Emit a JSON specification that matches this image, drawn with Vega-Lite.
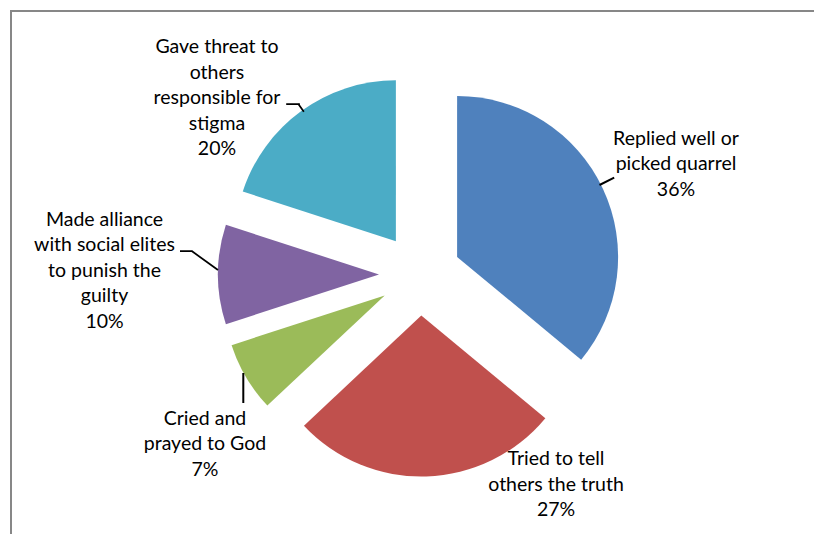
{
  "$schema": "https://vega.github.io/schema/vega-lite/v6.json",
  "width": 818,
  "height": 527,
  "autosize": "none",
  "padding": {"left": 11, "top": 11, "right": -15, "bottom": -4},
  "background": "white",
  "config": {
    "view": {"stroke": null},
    "text": {"font": "Lato", "fontSize": 19.5, "color": "#000000"}
  },
  "data": {
    "values": [
      {"category": "Replied well or picked quarrel", "label": ["Replied well or", "picked quarrel", "36%"], "value": 36, "order": 1},
      {"category": "Tried to tell others the truth", "label": ["Tried to tell", "others the truth", "27%"], "value": 27, "order": 2},
      {"category": "Cried and prayed to God", "label": ["Cried and", "prayed to God", "7%"], "value": 7, "order": 3},
      {"category": "Made alliance with social elites to punish the guilty", "label": ["Made alliance", "with social elites", "to punish the", "guilty", "10%"], "value": 10, "order": 4},
      {"category": "Gave threat to others responsible for stigma", "label": ["Gave threat to", "others", "responsible for", "stigma", "20%"], "value": 20, "order": 5}
    ]
  },
  "transform": [
    {"stack": "value", "groupby": [], "sort": [{"field": "order", "order": "ascending"}], "as": ["v0", "v1"]}
  ],
  "layer": [
    {
      "data": {"values": [{"frame": "chart area"}]},
      "mark": {"type": "rect", "fill": null, "stroke": "#878787", "strokeWidth": 2, "x2Offset": 40, "y2Offset": 40},
      "encoding": {}
    },
    {
      "transform": [{"filter": {"field": "order", "equal": 1}}],
      "encoding": {"theta": {"field": "v0", "type": "quantitative", "scale": {"domain": [0, 100], "range": [0, 6.283185307179586]}}},
      "layer": [
        {"mark": {"type": "arc", "outerRadius": 161, "xOffset": 37.1, "yOffset": -17.5},
         "encoding": {"theta2": {"field": "v1"}, "color": {"field": "category", "type": "nominal", "legend": null,
           "scale": {"domain": ["Replied well or picked quarrel", "Tried to tell others the truth", "Cried and prayed to God", "Made alliance with social elites to punish the guilty", "Gave threat to others responsible for stigma"],
                     "range": ["#4F81BD", "#C0504D", "#9BBB59", "#8064A2", "#4BACC6"]}}}},
        {"mark": {"type": "text", "radius": 278.8, "thetaOffset": 1.1633, "align": "center", "baseline": "middle", "lineHeight": 25.5, "dy": -25.5},
         "encoding": {"text": {"field": "label"}}},
        {"mark": {"type": "arc", "radius": 217, "radius2": 200.6, "thetaOffset": 1.1083, "theta2Offset": 1.1083, "fillOpacity": 0, "stroke": "#000000", "strokeWidth": 2},
         "encoding": {"theta2": {"field": "v0"}}}
      ]
    },
    {
      "transform": [{"filter": {"field": "order", "equal": 2}}],
      "encoding": {"theta": {"field": "v0", "type": "quantitative"}},
      "layer": [
        {"mark": {"type": "arc", "outerRadius": 161, "xOffset": 1.3, "yOffset": 41.0},
         "encoding": {"theta2": {"field": "v1"}, "color": {"field": "category", "type": "nominal", "legend": null}}},
        {"mark": {"type": "text", "radius": 250.6, "thetaOffset": 0.306, "align": "center", "baseline": "middle", "lineHeight": 25.5, "dy": -25.5},
         "encoding": {"text": {"field": "label"}}}
      ]
    },
    {
      "transform": [{"filter": {"field": "order", "equal": 3}}],
      "encoding": {"theta": {"field": "v0", "type": "quantitative"}},
      "layer": [
        {"mark": {"type": "arc", "outerRadius": 161, "xOffset": -35.3, "yOffset": 20.9},
         "encoding": {"theta2": {"field": "v1"}, "color": {"field": "category", "type": "nominal", "legend": null}}},
        {"mark": {"type": "text", "radius": 273.8, "thetaOffset": 0.0864, "align": "center", "baseline": "middle", "lineHeight": 25.5, "dy": -25.5},
         "encoding": {"text": {"field": "label"}}},
        {"mark": {"type": "arc", "radius": 128.5, "radius2": 98.5, "thetaOffset": -0.8168, "theta2Offset": -0.8168, "xOffset": -176.7, "yOffset": 0, "fillOpacity": 0, "stroke": "#000000", "strokeWidth": 2},
         "encoding": {"theta2": {"field": "v0"}}}
      ]
    },
    {
      "transform": [{"filter": {"field": "order", "equal": 4}}],
      "encoding": {"theta": {"field": "v0", "type": "quantitative"}},
      "layer": [
        {"mark": {"type": "arc", "outerRadius": 161, "xOffset": -41, "yOffset": 0},
         "encoding": {"theta2": {"field": "v1"}, "color": {"field": "category", "type": "nominal", "legend": null}}},
        {"mark": {"type": "text", "radius": 315.5, "thetaOffset": 0.3253, "align": "center", "baseline": "middle", "lineHeight": 25.5, "dy": -51},
         "encoding": {"text": {"field": "label"}}},
        {"mark": {"type": "arc", "radius": 240, "radius2": 227.8, "thetaOffset": 0.31416, "theta2Offset": 0.31416, "xOffset": 0, "yOffset": -23.5, "fillOpacity": 0, "stroke": "#000000", "strokeWidth": 1.75},
         "encoding": {"theta2": {"field": "v0"}}},
        {"mark": {"type": "arc", "radius": 132.4, "radius2": 100, "thetaOffset": 0.939, "theta2Offset": 0.939, "xOffset": -120.9, "yOffset": 54, "fillOpacity": 0, "stroke": "#000000", "strokeWidth": 1.75},
         "encoding": {"theta2": {"field": "v0"}}}
      ]
    },
    {
      "transform": [{"filter": {"field": "order", "equal": 5}}],
      "encoding": {"theta": {"field": "v0", "type": "quantitative"}},
      "layer": [
        {"mark": {"type": "arc", "outerRadius": 161, "xOffset": -24.1, "yOffset": -33.2},
         "encoding": {"theta2": {"field": "v1"}, "color": {"field": "category", "type": "nominal", "legend": null}}},
        {"mark": {"type": "text", "radius": 269, "thetaOffset": 0.4014, "align": "center", "baseline": "middle", "lineHeight": 25.5, "dy": -51},
         "encoding": {"text": {"field": "label"}}},
        {"mark": {"type": "arc", "radius": 133.8, "radius2": 120.2, "thetaOffset": -0.31416, "theta2Offset": -0.31416, "xOffset": 0, "yOffset": -170.5, "fillOpacity": 0, "stroke": "#000000", "strokeWidth": 1.75},
         "encoding": {"theta2": {"field": "v0"}}},
        {"mark": {"type": "arc", "radius": 209.5, "radius2": 200, "thetaOffset": 0.637, "theta2Offset": 0.637, "fillOpacity": 0, "stroke": "#000000", "strokeWidth": 1.75},
         "encoding": {"theta2": {"field": "v0"}}}
      ]
    }
  ]
}
